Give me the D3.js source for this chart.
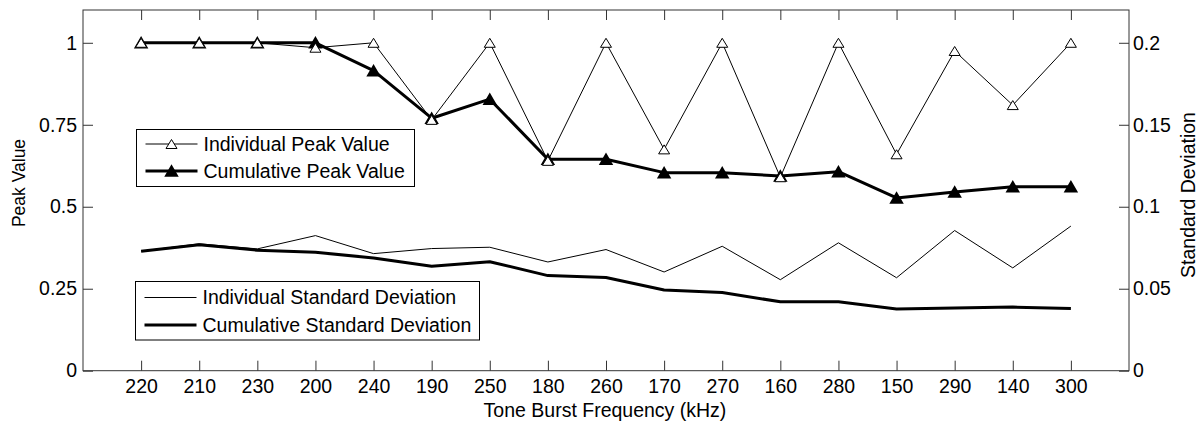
<!DOCTYPE html>
<html>
<head>
<meta charset="utf-8">
<script src="https://cdn.jsdelivr.net/npm/d3@7"></script>
<style>
  html, body { margin: 0; padding: 0; background: #fff; }
  svg { display: block; }
  text { font-family: "Liberation Sans", Arial, Helvetica, sans-serif; fill: #000; }
</style>
</head>
<body>
<svg id="chart" width="1202" height="424"></svg>
<script>
// Tone burst frequencies in the order they were tested (kHz)
const frequencies = ["220","210","230","200","240","190","250","180","260","170","270","160","280","150","290","140","300"];

// Peak values (left axis)
const individualPeak = [1, 1, 1, 0.985, 1, 0.765, 1, 0.64, 1, 0.675, 1, 0.59, 1, 0.66, 0.975, 0.81, 1];
const cumulativePeak = [1, 1, 1, 1, 0.915, 0.77, 0.828, 0.645, 0.645, 0.604, 0.604, 0.594, 0.607, 0.527, 0.545, 0.561, 0.561];

// Standard deviations (right axis)
const individualStd = [0.0729, 0.0774, 0.0743, 0.0824, 0.0714, 0.0745, 0.0753, 0.0663, 0.0739, 0.0602, 0.0759, 0.0555, 0.078, 0.0567, 0.0855, 0.0627, 0.0882];
const cumulativeStd = [0.0729, 0.0768, 0.0735, 0.0722, 0.0688, 0.0637, 0.0665, 0.058, 0.0569, 0.0492, 0.0477, 0.042, 0.042, 0.0376, 0.0382, 0.0388, 0.038];

// Tick values
const peakTicks = [0, 0.25, 0.5, 0.75, 1];
const peakTickLabels = ["0", "0.25", "0.5", "0.75", "1"];
const stdTicks = [0, 0.05, 0.1, 0.15, 0.2];
const stdTickLabels = ["0", "0.05", "0.1", "0.15", "0.2"];

const svg = d3.select("#chart");
const plot = { left: 83, right: 1129, top: 10, bottom: 370.7 };
const FONT = 19.5;
const axisColor = "#333";

const x = d3.scaleLinear().domain([0, frequencies.length + 1]).range([plot.left, plot.right]);
const yPeak = d3.scaleLinear().domain([0, 1.1]).range([plot.bottom, plot.top]);
const yStd = d3.scaleLinear().domain([0, 0.22]).range([plot.bottom, plot.top]);
const idx = frequencies.map((d, i) => i + 1);

// Axes (ticks pointing inward, full box)
const tickLen = 10;
const bottomAxis = d3.axisBottom(x).tickValues(idx).tickSize(-tickLen).tickPadding(8)
  .tickFormat((d) => frequencies[d - 1]);
const topAxis = d3.axisTop(x).tickValues(idx).tickSize(-tickLen).tickFormat("");
const leftAxis = d3.axisLeft(yPeak).tickValues(peakTicks).tickSize(-tickLen).tickPadding(6)
  .tickFormat((d, i) => peakTickLabels[i]);
const rightAxis = d3.axisRight(yStd).tickValues(stdTicks).tickSize(-tickLen).tickPadding(4)
  .tickFormat((d, i) => stdTickLabels[i]);

function styleAxis(g) {
  g.attr("font-size", FONT).attr("font-family", '"Liberation Sans", Arial, sans-serif');
  g.select(".domain").remove();
  g.selectAll(".tick line").attr("stroke", axisColor).attr("stroke-width", 1);
  g.selectAll(".tick text").attr("fill", "#000");
}

svg.append("g").attr("transform", `translate(0,${plot.bottom})`).call(bottomAxis).call(styleAxis);
svg.append("g").attr("transform", `translate(0,${plot.top})`).call(topAxis).call(styleAxis);
svg.append("g").attr("transform", `translate(${plot.left},0)`).call(leftAxis).call(styleAxis);
svg.append("g").attr("transform", `translate(${plot.right},0)`).call(rightAxis).call(styleAxis);

svg.append("rect")
  .attr("x", plot.left).attr("y", plot.top)
  .attr("width", plot.right - plot.left).attr("height", plot.bottom - plot.top)
  .attr("fill", "none").attr("stroke", axisColor).attr("stroke-width", 1);

// Axis titles
svg.append("text").attr("x", 605).attr("y", 417)
  .attr("text-anchor", "middle").attr("font-size", FONT).text("Tone Burst Frequency (kHz)");
svg.append("text").attr("transform", "translate(25,183) rotate(-90)")
  .attr("text-anchor", "middle").attr("font-size", 17.5).text("Peak Value");
svg.append("text").attr("transform", "translate(1195,195) rotate(-90)")
  .attr("text-anchor", "middle").attr("font-size", 19.5).text("Standard Deviation");

// Series lines
const peakLine = d3.line().x((d, i) => x(i + 1)).y((d) => yPeak(d));
const stdLine = d3.line().x((d, i) => x(i + 1)).y((d) => yStd(d));

svg.append("path").datum(individualStd).attr("d", stdLine)
  .attr("fill", "none").attr("stroke", "#000").attr("stroke-width", 1);
svg.append("path").datum(cumulativeStd).attr("d", stdLine)
  .attr("fill", "none").attr("stroke", "#000").attr("stroke-width", 3).attr("stroke-linejoin", "round");

svg.append("path").datum(individualPeak).attr("d", peakLine)
  .attr("fill", "none").attr("stroke", "#000").attr("stroke-width", 1);
svg.append("path").datum(cumulativePeak).attr("d", peakLine)
  .attr("fill", "none").attr("stroke", "#000").attr("stroke-width", 3).attr("stroke-linejoin", "round");

// Triangle marker centred on its bounding box
function tri(cx, cy, hw, h) {
  return `M${cx},${cy - h / 2}L${cx + hw},${cy + h / 2}L${cx - hw},${cy + h / 2}Z`;
}

svg.append("g").selectAll("path").data(cumulativePeak).join("path")
  .attr("d", (d, i) => tri(x(i + 1), yPeak(d), 5.5, 9.5))
  .attr("fill", "#000").attr("stroke", "#000").attr("stroke-width", 2).attr("stroke-linejoin", "miter");
svg.append("g").selectAll("path").data(individualPeak).join("path")
  .attr("d", (d, i) => tri(x(i + 1), yPeak(d), 5.5, 9))
  .attr("fill", "#fff").attr("stroke", "#000").attr("stroke-width", 1);

// Legends
function legend(box, rows) {
  const g = svg.append("g");
  g.append("rect").attr("x", box.x).attr("y", box.y).attr("width", box.w).attr("height", box.h)
    .attr("fill", "#fff").attr("stroke", "#000").attr("stroke-width", 1);
  rows.forEach((r, i) => {
    const cy = box.y + box.rowTop + i * box.rowGap;
    g.append("line").attr("x1", box.x + 9).attr("x2", box.x + 61).attr("y1", cy).attr("y2", cy)
      .attr("stroke", "#000").attr("stroke-width", r.width);
    if (r.marker === "open") {
      g.append("path").attr("d", tri(box.x + 35, cy, 5.5, 9)).attr("fill", "#fff").attr("stroke", "#000").attr("stroke-width", 1);
    } else if (r.marker === "filled") {
      g.append("path").attr("d", tri(box.x + 35, cy, 5.5, 9.5)).attr("fill", "#000").attr("stroke", "#000").attr("stroke-width", 2);
    }
    g.append("text").attr("x", box.x + 67).attr("y", cy).attr("dy", "0.35em")
      .attr("font-size", FONT).text(r.label);
  });
}

legend({ x: 136.5, y: 129.5, w: 278, h: 57, rowTop: 14.5, rowGap: 27 }, [
  { label: "Individual Peak Value", width: 1, marker: "open" },
  { label: "Cumulative Peak Value", width: 3, marker: "filled" }
]);
legend({ x: 135.5, y: 281.5, w: 344, h: 58.5, rowTop: 16, rowGap: 27.5 }, [
  { label: "Individual Standard Deviation", width: 1, marker: null },
  { label: "Cumulative Standard Deviation", width: 3, marker: null }
]);
</script>
</body>
</html>
